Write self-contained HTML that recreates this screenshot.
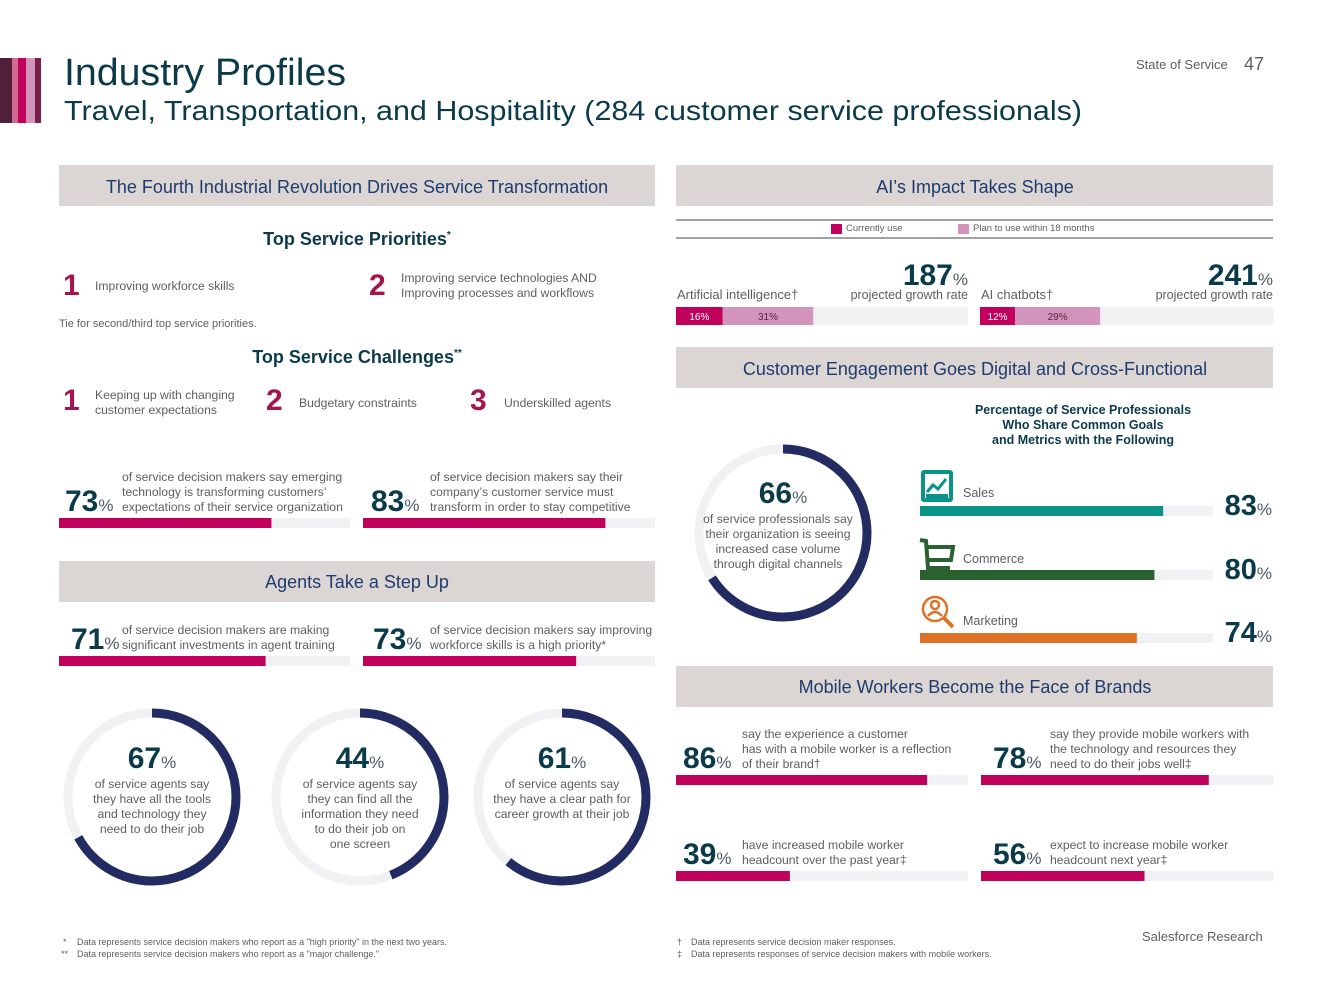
<!DOCTYPE html>
<html><head><meta charset="utf-8"><style>
html,body{margin:0;padding:0;background:#fff;}
svg{display:block;font-family:"Liberation Sans",sans-serif;}
.band{fill:#dbd6d3}
.bt{fill:#1f3b6e;font-size:18px;text-anchor:middle}
.g{fill:#5a5f66;font-size:12.2px}
.num{fill:#0b3a4a;font-weight:bold}
.pct{fill:#4a5a62;font-size:17px}
.rank{fill:#a3154e;font-weight:bold;font-size:30px}
</style></head><body>
<svg id="page" width="1333" height="1000" viewBox="0 0 1333 1000" xmlns="http://www.w3.org/2000/svg">
<g>
<rect x="0" y="58" width="12" height="65" fill="#4f1f3c"/><rect x="12" y="58" width="6" height="65" fill="#d26b8f"/><rect x="18" y="58" width="8" height="65" fill="#c0005a"/><rect x="26" y="58" width="9" height="65" fill="#d394bc"/><rect x="35" y="58" width="6" height="65" fill="#7a1f4a"/>
</g>
<text x="64" y="85" font-size="38" fill="#0b3a4a" textLength="282" lengthAdjust="spacingAndGlyphs">Industry Profiles</text>
<text x="64" y="120" font-size="28" fill="#0b3a4a" textLength="1018" lengthAdjust="spacingAndGlyphs">Travel, Transportation, and Hospitality (284 customer service professionals)</text>
<text x="1136" y="69" font-size="13" fill="#5a5f66">State of Service</text>
<text x="1244" y="70" font-size="18" fill="#5a5f66">47</text>

<rect class="band" x="59" y="165" width="596" height="41"/>
<text class="bt" x="357" y="193">The Fourth Industrial Revolution Drives Service Transformation</text>
<rect class="band" x="676" y="165" width="597" height="41"/>
<text class="bt" x="975" y="193">AI’s Impact Takes Shape</text>
<rect class="band" x="676" y="347" width="597" height="41"/>
<text class="bt" x="975" y="375">Customer Engagement Goes Digital and Cross-Functional</text>
<rect class="band" x="59" y="561" width="596" height="41"/>
<text class="bt" x="357" y="588">Agents Take a Step Up</text>
<rect class="band" x="676" y="666" width="597" height="41"/>
<text class="bt" x="975" y="693">Mobile Workers Become the Face of Brands</text>

<text x="357" y="245" text-anchor="middle" font-size="18" font-weight="bold" fill="#0b3a4a">Top Service Priorities<tspan font-size="10" dy="-7">*</tspan></text>
<text class="rank" x="63" y="295">1</text><text class="g" x="95" y="290">Improving workforce skills</text>
<text class="rank" x="369" y="295">2</text><text class="g" x="401" y="282">Improving service technologies AND</text><text class="g" x="401" y="297">Improving processes and workflows</text>
<text x="59" y="327" font-size="11" fill="#5a5f66">Tie for second/third top service priorities.</text>
<text x="357" y="363" text-anchor="middle" font-size="18" font-weight="bold" fill="#0b3a4a">Top Service Challenges<tspan font-size="10" dy="-7">**</tspan></text>
<text class="rank" x="63" y="410">1</text><text class="g" x="95" y="399">Keeping up with changing</text><text class="g" x="95" y="414">customer expectations</text>
<text class="rank" x="266" y="410">2</text><text class="g" x="299" y="407">Budgetary constraints</text>
<text class="rank" x="470" y="410">3</text><text class="g" x="504" y="407">Underskilled agents</text>

<line x1="676" y1="220" x2="1273" y2="220" stroke="#444" stroke-width="1"/>
<line x1="676" y1="238" x2="1273" y2="238" stroke="#444" stroke-width="1"/>
<rect x="831" y="224" width="11" height="10" fill="#c0005a"/>
<text x="846" y="231" font-size="9.5" fill="#5a5f66">Currently use</text>
<rect x="958" y="224" width="11" height="10" fill="#d394bc"/>
<text x="973" y="231" font-size="9.5" fill="#5a5f66">Plan to use within 18 months</text>

<text font-size="12.5" font-weight="bold" fill="#0b3a4a" text-anchor="middle"><tspan x="1083" y="414">Percentage of Service Professionals</tspan><tspan x="1083" y="429">Who Share Common Goals</tspan><tspan x="1083" y="444">and Metrics with the Following</tspan></text>

<g><rect x="921" y="470" width="32" height="32" rx="3" fill="#0a9488"/><rect x="925" y="474" width="24" height="24" fill="#fff"/><polyline points="927,492 933,485 938,489 946,479" fill="none" stroke="#0a9488" stroke-width="3"/><rect x="926" y="494" width="22" height="4" fill="#0a9488"/></g>
<g fill="none" stroke="#2b6130" stroke-width="4"><polyline points="920,540 926,541 928,568 950,568"/><polyline points="926,547 953,547 951,560 928,560"/><circle cx="930" cy="574" r="2.5" fill="#2b6130"/><circle cx="948" cy="574" r="2.5" fill="#2b6130"/></g>
<g fill="none" stroke="#dd7126" stroke-width="2.5"><circle cx="935" cy="609" r="12"/><circle cx="935" cy="605" r="4"/><path d="M928,616 q7,-8 14,0"/><line x1="944" y1="618" x2="953" y2="627" stroke-width="4"/></g>

<text x="1142" y="941" font-size="13" fill="#5a5f66">Salesforce Research</text>
<g font-size="9" fill="#5a5f66"><text x="63" y="945">*</text><text x="77" y="945">Data represents service decision makers who report as a "high priority" in the next two years.</text><text x="61" y="957">**</text><text x="77" y="957">Data represents service decision makers who report as a "major challenge."</text></g>
<g font-size="9" fill="#5a5f66"><text x="677" y="945">†</text><text x="691" y="945">Data represents service decision maker responses.</text><text x="677" y="957">‡</text><text x="691" y="957">Data represents responses of service decision makers with mobile workers.</text></g>
<g id="dyn"></g>
</svg>
<script>
// Stat bars (percent values)
const statValues = [73, 83, 71, 73, 86, 78, 39, 56];
const statLabels = [
 ["of service decision makers say emerging","technology is transforming customers’","expectations of their service organization"],
 ["of service decision makers say their","company’s customer service must","transform in order to stay competitive"],
 ["of service decision makers are making","significant investments in agent training"],
 ["of service decision makers say improving","workforce skills is a high priority*"],
 ["say the experience a customer","has with a mobile worker is a reflection","of their brand†"],
 ["say they provide mobile workers with","the technology and resources they","need to do their jobs well‡"],
 ["have increased mobile worker","headcount over the past year‡"],
 ["expect to increase mobile worker","headcount next year‡"]
];
// AI adoption
const aiCategories = ["Artificial intelligence†", "AI chatbots†"];
const aiCurrent = [16, 12];
const aiPlan = [31, 29];
const aiGrowth = [187, 241];
// Engagement
const engCategories = ["Sales", "Commerce", "Marketing"];
const engValues = [83, 80, 74];
// Donuts
const donutValues = [66, 67, 44, 61];
const donutLabels = [
 ["of service professionals say","their organization is seeing","increased case volume","through digital channels"],
 ["of service agents say","they have all the tools","and technology they","need to do their job"],
 ["of service agents say","they can find all the","information they need","to do their job on","one screen"],
 ["of service agents say","they have a clear path for","career growth at their job"]
];

const NS="http://www.w3.org/2000/svg";
const dyn=document.getElementById('dyn');
function mk(tag,attrs,parent){const e=document.createElementNS(NS,tag);for(const k in attrs)e.setAttribute(k,attrs[k]);(parent||dyn).appendChild(e);return e;}
function txt(x,y,s,attrs){const e=mk('text',Object.assign({x:x,y:y},attrs||{}));e.textContent=s;return e;}
function numPct(x,y,v,size,anchor){const e=mk('text',{x:x,y:y,'text-anchor':anchor||'start'});const a=document.createElementNS(NS,'tspan');a.setAttribute('class','num');a.setAttribute('font-size',size);a.textContent=v;e.appendChild(a);const b=document.createElementNS(NS,'tspan');b.setAttribute('class','pct');b.setAttribute('font-size',Math.round(size*0.55));b.textContent='%';e.appendChild(b);return e;}

// stat block layout
const statLayout=[
 {x:59,w:291,nx:65,tx:122,by:518},{x:363,w:292,nx:371,tx:430,by:518},
 {x:59,w:291,nx:71,tx:122,by:656},{x:363,w:292,nx:373,tx:430,by:656},
 {x:676,w:292,nx:683,tx:742,by:775},{x:981,w:292,nx:993,tx:1050,by:775},
 {x:676,w:292,nx:683,tx:742,by:871},{x:981,w:292,nx:993,tx:1050,by:871}];
statValues.forEach((v,i)=>{
 const L=statLayout[i];const g=mk('g',{});
 
 
 const tr=mk('rect',{x:L.x,y:L.by,width:L.w,height:10,fill:'#f0f1f3'},g);
 
 
 const br=mk('rect',{x:L.x,y:L.by,width:L.w*v/100,height:10,fill:'#c0005a'},g);
 
 
 const n=numPct(L.nx,L.by-7,v,30);g.appendChild(n);
 const lines=statLabels[i];
 lines.forEach((s,j)=>{const t=txt(L.tx,L.by-7-15*(lines.length-1-j),s,{class:'g',fill:'#5a5f66'});g.appendChild(t);});
});

// AI bars
const aiX=[676,980],aiW=[292,293];
aiCategories.forEach((c,i)=>{
 const x=aiX[i],w=aiW[i];
 const t=txt(x+1,299,c,{'font-size':13,fill:'#5a5f66'});
 
 
 numPct(x+w,285,aiGrowth[i],30,'end');
 txt(x+w,299,'projected growth rate',{'font-size':12.5,fill:'#5a5f66','text-anchor':'end'});
 const tr=mk('rect',{x:x,y:307,width:w,height:18,fill:'#f0f1f3'});
 
 
 const cw=w*aiCurrent[i]/100,pw=w*aiPlan[i]/100;
 const r1=mk('rect',{x:x,y:307,width:cw,height:18,fill:'#c0005a'});
 
 
 const r2=mk('rect',{x:x+cw,y:307,width:pw,height:18,fill:'#d394bc'});
 
 
 txt(x+cw/2,320,aiCurrent[i]+'%',{'font-size':10,fill:'#fff','text-anchor':'middle'});
 txt(x+cw+pw/2,320,aiPlan[i]+'%',{'font-size':10,fill:'#5a2040','text-anchor':'middle'});
});

// engagement bars
const engColors=['#0a9488','#2b6130','#dd7126'];
const engY=[506,570,633],engLabelY=[497,563,625];
engCategories.forEach((c,i)=>{
 txt(963,engLabelY[i],c,{'font-size':12.5,fill:'#5a5f66'});
 const tr=mk('rect',{x:920,y:engY[i],width:293,height:10,fill:'#f0f1f3'});
 
 
 const b=mk('rect',{x:920,y:engY[i],width:293*engValues[i]/100,height:10,fill:engColors[i]});
 
 
 numPct(1272,engY[i]+9,engValues[i],29,'end');
});

// donuts
const donutCx=[783,152,360,562],donutCy=[533,797,797,797];
donutValues.forEach((v,i)=>{
 const cx=donutCx[i],cy=donutCy[i],r=84,C=2*Math.PI*r;
 const bg=mk('circle',{cx:cx,cy:cy,r:r,fill:'none',stroke:'#f0f1f3','stroke-width':9});
 
 
 const arc=mk('circle',{cx:cx,cy:cy,r:r,fill:'none',stroke:'#222b62','stroke-width':9,'stroke-dasharray':(C*v/100)+' '+C,transform:'rotate(-90 '+cx+' '+cy+')'});
 
 
 const ny=i===0?503:768;
 numPct(cx,ny,v,30,'middle');
 donutLabels[i].forEach((s,j)=>txt(i===0?cx-5:cx,ny+20+15*j,s,{class:'g','text-anchor':'middle'}));
});
</script>
</body></html>
